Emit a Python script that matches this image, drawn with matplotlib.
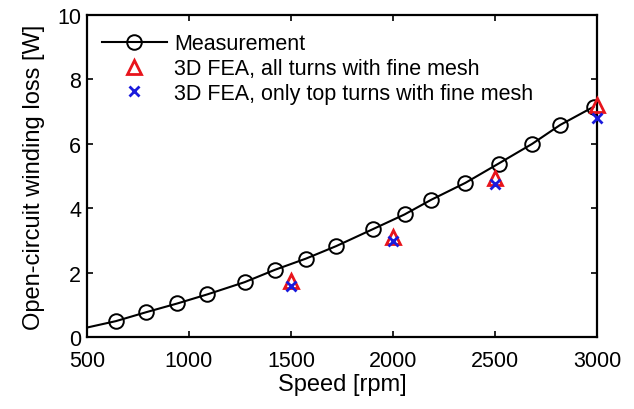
import matplotlib
matplotlib.use('Agg')
import matplotlib.pyplot as plt

# measured winding loss (first point only used for the line start)
speed_meas = [500, 642, 792, 944, 1090, 1273, 1420, 1573, 1722, 1903,
              2056, 2188, 2354, 2517, 2681, 2819, 2982]
loss_meas = [0.30, 0.50, 0.78, 1.05, 1.33, 1.71, 2.09, 2.44, 2.83, 3.36,
             3.81, 4.27, 4.79, 5.39, 6.00, 6.59, 7.15]

speed_fea = [1500, 2000, 2500, 3000]
loss_fea_all = [1.75, 3.10, 4.95, 7.20]
loss_fea_top = [1.60, 3.00, 4.75, 6.80]

plt.rcParams.update({
    'font.family': ['Liberation Sans', 'DejaVu Sans'],
    'font.size': 15,
    'axes.linewidth': 1.6,
})

fig = plt.figure(figsize=(6.34, 4.10), dpi=100)
ax = fig.add_axes([0.137, 0.175, 0.805, 0.786])

ax.plot(speed_meas, loss_meas, color='black', linewidth=1.5, marker='o',
        markersize=10.5, markerfacecolor='none', markeredgewidth=1.4,
        markevery=list(range(1, len(speed_meas))), label='Measurement')
ax.plot(speed_fea, loss_fea_all, linestyle='none', marker='^', markersize=10,
        markerfacecolor='none', markeredgecolor='#e8141c', markeredgewidth=2,
        label='3D FEA, all turns with fine mesh', clip_on=False, zorder=3)
ax.plot(speed_fea, loss_fea_top, linestyle='none', marker='x', markersize=7.5,
        color='#1a1adc', markeredgewidth=2,
        label='3D FEA, only top turns with fine mesh', clip_on=False, zorder=4)

ax.set_xlim(500, 3000)
ax.set_ylim(0, 10)
ax.set_xticks([500, 1000, 1500, 2000, 2500, 3000])
ax.set_yticks([0, 2, 4, 6, 8, 10])
ax.tick_params(direction='in', top=True, right=True, length=4, width=1.2,
               labelsize=15.5, pad=4)
ax.tick_params(axis='x', pad=9.5)
ax.set_xlabel('Speed [rpm]', fontsize=17, labelpad=1)
ax.set_ylabel('Open-circuit winding loss [W]', fontsize=17, labelpad=9)

ax.legend(loc='upper left', frameon=False, fontsize=15.5, handlelength=3.0,
          handletextpad=0.35, labelspacing=0.18, borderaxespad=0.3,
          bbox_to_anchor=(0.0, 0.99))

fig.savefig('out.png', dpi=100, facecolor='white')
